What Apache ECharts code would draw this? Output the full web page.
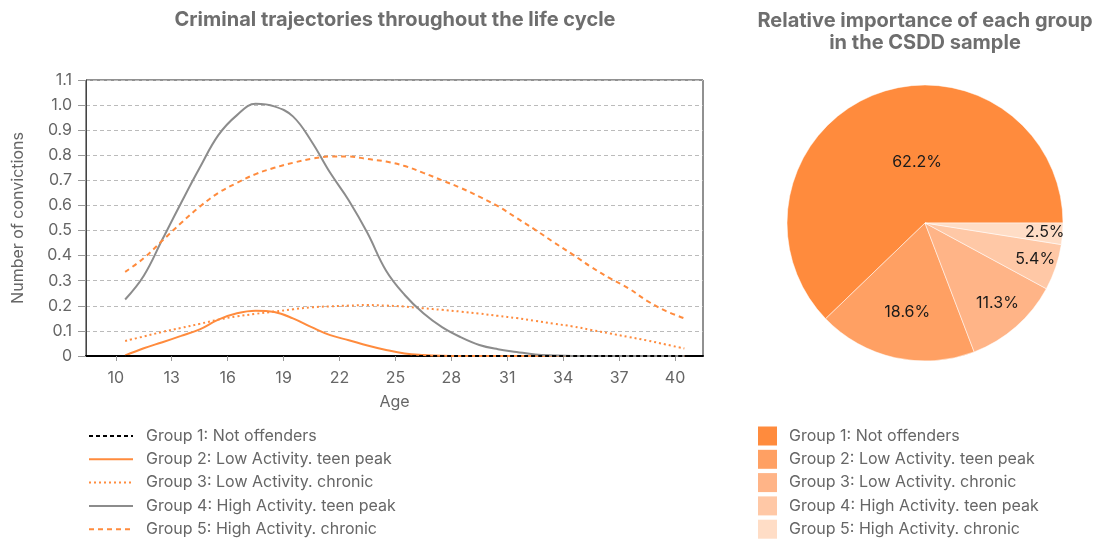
<!DOCTYPE html>
<html>
<head>
<meta charset="utf-8">
<title>Criminal trajectories</title>
<script src="https://cdn.jsdelivr.net/npm/echarts@6.0.0/dist/echarts.min.js"></script>
<style>
  html, body { margin: 0; padding: 0; background: #fff; }
  #chart { width: 1105px; height: 541px; }
</style>
</head>
<body>
<div id="chart"></div>
<script>
// ages (mid-points) used for every trajectory
const ages = [10.5, 11.5, 12.5, 13.5, 14.5, 15.5, 16.5, 17.5, 18.5, 19.5, 20.5,
  21.5, 22.5, 23.5, 24.5, 25.5, 26.5, 27.5, 28.5, 29.5, 30.5,
  31.5, 32.5, 33.5, 34.5, 35.5, 36.5, 37.5, 38.5, 39.5, 40.5];
const ageTicks = [10, 13, 16, 19, 22, 25, 28, 31, 34, 37, 40];

const groupNames = [
  "Group 1: Not offenders",
  "Group 2: Low Activity. teen peak",
  "Group 3: Low Activity. chronic",
  "Group 4: High Activity. teen peak",
  "Group 5: High Activity. chronic"
];

const group1 = [0, 0, 0, 0, 0, 0, 0, 0, 0, 0, 0, 0, 0, 0, 0, 0, 0, 0, 0, 0, 0,
  0, 0, 0, 0, 0, 0, 0, 0, 0, 0];
const group2 = [0.002, 0.031, 0.055, 0.08, 0.106, 0.145, 0.17, 0.18, 0.175, 0.15, 0.115,
  0.083, 0.063, 0.042, 0.024, 0.01, 0.004, 0.001, 0, 0, 0,
  0, 0, 0, 0, 0, 0, 0, 0, 0, 0];
const group3 = [0.06, 0.078, 0.096, 0.112, 0.128, 0.145, 0.158, 0.168, 0.177, 0.186, 0.194,
  0.198, 0.201, 0.203, 0.201, 0.197, 0.19, 0.184, 0.177, 0.169, 0.16,
  0.151, 0.14, 0.129, 0.118, 0.104, 0.09, 0.076, 0.062, 0.046, 0.03];
const group4 = [0.225, 0.32, 0.465, 0.61, 0.75, 0.88, 0.96, 1.005, 0.995, 0.955, 0.855,
  0.73, 0.62, 0.49, 0.34, 0.243, 0.17, 0.115, 0.075, 0.044, 0.027,
  0.016, 0.006, 0.002, 0, 0, 0, 0, 0, 0, 0];
const group5 = [0.335, 0.39, 0.46, 0.53, 0.595, 0.65, 0.69, 0.725, 0.75, 0.77, 0.786,
  0.795, 0.795, 0.785, 0.775, 0.757, 0.73, 0.70, 0.67, 0.635, 0.597,
  0.55, 0.503, 0.453, 0.405, 0.355, 0.31, 0.27, 0.22, 0.18, 0.15];

// share of each group in the CSDD sample (%)
const groupShares = [62.2, 18.6, 11.3, 5.4, 2.5];

const ORANGE = "#ff8b3d";
const GREY = "#8c8c8c";
const TEXT = "#666666";
const FONT = "Inter, 'Liberation Sans', Arial, sans-serif";
const pieColors = ["#ff8b3d", "#ffa063", "#ffb487", "#ffc8a6", "#ffddc6"];
// nudges for the pie labels (style only)
const pieLabelOffsets = [[19, 6], [-2, 19], [25, 26], [42, 13], [48, 4]];

const lineStyles = [
  { color: "#000", type: [4, 3], width: 2 },
  { color: ORANGE, type: "solid", width: 2 },
  { color: ORANGE, type: [2, 3], width: 2 },
  { color: GREY, type: "solid", width: 2 },
  { color: ORANGE, type: [5, 4], width: 2 }
];
const lineData = [group1, group2, group3, group4, group5];

const chart = echarts.init(document.getElementById("chart"), null, { renderer: "canvas" });

const lineSeries = lineData.map(function (vals, i) {
  return {
    name: groupNames[i],
    type: "line",
    data: ages.map(function (a, k) { return [a, vals[k]]; }),
    symbol: "none",
    smooth: 0.4,
    color: lineStyles[i].color,
    lineStyle: lineStyles[i],
    z: i === 0 ? 5 : 3
  };
});

const option = {
  animation: false,
  textStyle: { fontFamily: FONT },
  title: [
    {
      text: "Criminal trajectories throughout the life cycle",
      left: 395,
      top: 9,
      padding: 0,
      textAlign: "center",
      textStyle: { color: "#6e6e6e", fontSize: 20, fontWeight: "bold", fontFamily: FONT, lineHeight: 22 }
    },
    {
      text: "Relative importance of each group\nin the CSDD sample",
      left: 925,
      top: 10,
      padding: 0,
      textAlign: "center",
      textStyle: { color: "#6e6e6e", fontSize: 20, fontWeight: "bold", fontFamily: FONT, lineHeight: 22 }
    }
  ],
  legend: [
    {
      orient: "vertical",
      left: 88,
      top: 426.5,
      padding: 0,
      itemWidth: 44,
      itemHeight: 14,
      itemGap: 4.3,
      itemStyle: { color: "transparent", borderColor: "transparent", borderWidth: 0 },
      textStyle: { color: TEXT, fontSize: 16, lineHeight: 19, fontFamily: FONT, padding: [0, 0, 0, 8] },
      data: groupNames.slice()
    },
    {
      orient: "vertical",
      left: 758,
      top: 426.5,
      padding: 0,
      itemWidth: 19,
      itemHeight: 19,
      itemGap: 4.3,
      textStyle: { color: TEXT, fontSize: 16, lineHeight: 19, fontFamily: FONT, padding: [0, 0, 0, 7] },
      data: groupNames.map(function (n, i) {
        return { name: n, icon: "rect", itemStyle: { color: pieColors[i], borderWidth: 0 } };
      })
    }
  ],
  grid: {
    left: 86,
    right: 402,
    top: 80,
    bottom: 185,
    show: true,
    borderColor: "#222",
    borderWidth: 1
  },
  xAxis: {
    type: "value",
    min: 8.4,
    max: 41.5,
    name: "Age",
    nameLocation: "middle",
    nameGap: 38,
    nameTextStyle: { color: TEXT, fontSize: 16 },
    axisLine: { show: true, lineStyle: { color: "#000", width: 2 } },
    axisTick: { show: true, customValues: ageTicks, length: 5, lineStyle: { color: "#999" } },
    axisLabel: { customValues: ageTicks, color: TEXT, fontSize: 16, margin: 14 },
    splitLine: { show: false }
  },
  yAxis: {
    type: "value",
    min: 0,
    max: 1.1,
    interval: 0.1,
    name: "Number of convictions",
    nameLocation: "middle",
    nameGap: 60,
    nameTextStyle: { color: TEXT, fontSize: 16 },
    axisLine: { show: true, lineStyle: { color: "#444", width: 1 } },
    axisTick: { show: true, length: 8, lineStyle: { color: "#999" } },
    axisLabel: {
      color: TEXT,
      fontSize: 16,
      margin: 14,
      formatter: function (v) { return v === 0 ? "0" : v.toFixed(1); }
    },
    splitLine: { show: true, lineStyle: { color: "#bbb", type: [4, 3] } }
  },
  series: lineSeries.concat([
    {
      name: "share",
      type: "pie",
      center: [925, 223],
      radius: 138,
      startAngle: 0,
      clockwise: false,
      avoidLabelOverlap: false,
      legendHoverLink: false,
      label: {
        show: true,
        position: "inside",
        color: "#1a1a1a",
        fontSize: 16,
        fontFamily: FONT,
        formatter: function (p) { return p.value.toFixed(1) + "%"; }
      },
      labelLine: { show: false },
      itemStyle: { borderColor: "#fff", borderWidth: 0.5 },
      emphasis: { disabled: true },
      data: groupShares.map(function (v, i) {
        return {
          name: groupNames[i],
          value: v,
          itemStyle: { color: pieColors[i] },
          label: { offset: pieLabelOffsets[i] }
        };
      })
    }
  ])
};

chart.setOption(option);
</script>
</body>
</html>
